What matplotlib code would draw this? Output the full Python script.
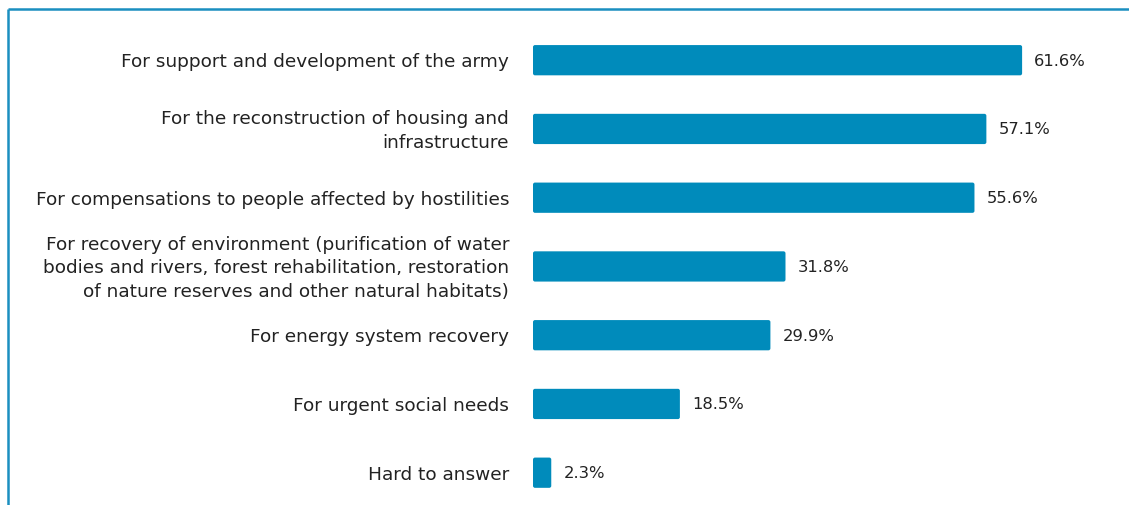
import matplotlib
matplotlib.use("Agg")
import matplotlib.pyplot as plt
from matplotlib.lines import Line2D
from matplotlib.patches import FancyBboxPatch

categories = [
    "For support and development of the army",
    "For the reconstruction of housing and\ninfrastructure",
    "For compensations to people affected by hostilities",
    "For recovery of environment (purification of water\nbodies and rivers, forest rehabilitation, restoration\nof nature reserves and other natural habitats)",
    "For energy system recovery",
    "For urgent social needs",
    "Hard to answer",
]
values = [61.6, 57.1, 55.6, 31.8, 29.9, 18.5, 2.3]

BAR_COLOR = "#008bbb"
FRAME_COLOR = "#1a8fc0"
TEXT_COLOR = "#222222"
FONT = "DejaVu Sans"

W, H, DPI = 1129, 506, 100
fig = plt.figure(figsize=(W / DPI, H / DPI), dpi=DPI)

# plotting area starts where the bars begin
x0 = 533 / W
ax = fig.add_axes([x0, 0, 1 - x0, 1])
px_per_unit = 7.94
ax.set_xlim(0, (W - 533) / px_per_unit)
step = 68.75
first = 61.2
ax.set_ylim((H - first) / step, -first / step)
ax.axis("off")

pos = list(range(len(categories)))
bars = ax.barh(pos, values, height=0.44, color=BAR_COLOR, edgecolor="none")

# swap the plain rectangles for slightly rounded ones
radius_px = 2.0
for rect in bars:
    rect.set_visible(False)
    ax.add_patch(FancyBboxPatch(
        (rect.get_x(), rect.get_y()), rect.get_width(), rect.get_height(),
        boxstyle=f"round,pad=0,rounding_size={radius_px / px_per_unit}",
        mutation_aspect=px_per_unit / step,
        facecolor=BAR_COLOR, edgecolor="none"))

for rect, v, label in zip(bars, values, categories):
    yc = rect.get_y() + rect.get_height() / 2
    ax.annotate(f"{v:.1f}%", xy=(v, yc), xytext=(12, 0), textcoords="offset pixels",
                ha="left", va="center", fontsize=11.8, color=TEXT_COLOR, family=FONT)
    ax.annotate(label, xy=(0, yc), xytext=(-24, -1), textcoords="offset pixels",
                ha="right", va="center", fontsize=13.3, color=TEXT_COLOR, family=FONT,
                multialignment="right", linespacing=1.42, annotation_clip=False)

# frame along the top and left edges
fig.add_artist(Line2D([8 / W, 1], [1 - 10 / H, 1 - 10 / H], transform=fig.transFigure,
                      color=FRAME_COLOR, lw=1.8, solid_capstyle="butt"))
fig.add_artist(Line2D([8 / W, 8 / W], [1 - 10 / H, 0], transform=fig.transFigure,
                      color=FRAME_COLOR, lw=1.8, solid_capstyle="butt"))

fig.savefig("out.png", dpi=DPI)
